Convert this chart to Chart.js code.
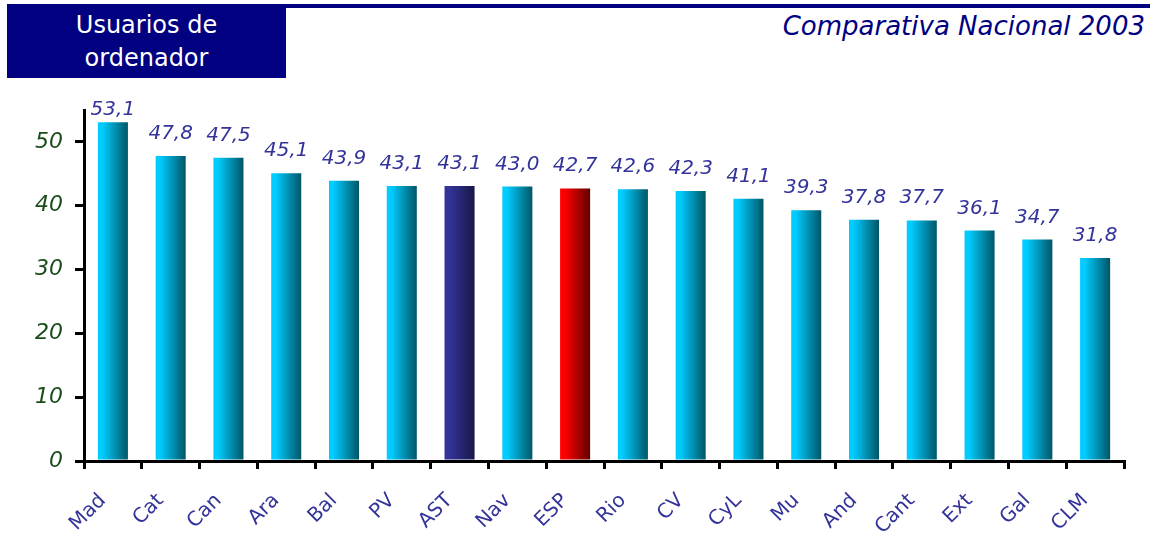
<!DOCTYPE html>
<html>
<head>
<meta charset="utf-8">
<script src="https://cdn.jsdelivr.net/npm/chart.js@4/dist/chart.umd.min.js"></script>
<style>
  body { margin: 0; background: #fff; width: 1155px; height: 537px; overflow: hidden; position: relative; font-family: "DejaVu Sans", sans-serif; }
  #box { position: absolute; left: 7px; top: 4px; width: 279px; height: 74px; background: #000080; color: #fff; font-size: 24px; line-height: 33px; text-align: center; padding-top: 5px; box-sizing: border-box; }
  #topline { position: absolute; left: 286px; top: 4px; width: 864px; height: 4px; background: #000080; }
  #title { position: absolute; right: 10px; top: 11px; color: #000080; font-style: italic; font-size: 26px; }
  canvas { position: absolute; left: 0; top: 0; }
</style>
</head>
<body>
<div id="box">Usuarios de<br>ordenador</div>
<div id="topline"></div>
<div id="title">Comparativa Nacional 2003</div>
<canvas id="usersChart" width="1155" height="537"></canvas>
<script>
const regions = ['Mad', 'Cat', 'Can', 'Ara', 'Bal', 'PV', 'AST', 'Nav', 'ESP', 'Rio', 'CV', 'CyL', 'Mu', 'And', 'Cant', 'Ext', 'Gal', 'CLM'];
const users = [53.1, 47.8, 47.5, 45.1, 43.9, 43.1, 43.1, 43.0, 42.7, 42.6, 42.3, 41.1, 39.3, 37.8, 37.7, 36.1, 34.7, 31.8];
const yTicks = [0, 10, 20, 30, 40, 50];

const barPct = 0.52;

// horizontal gradient per bar, light on the left, dark on the right
function barColor(ctx) {
    const chart = ctx.chart;
    const xs = chart.scales.x;
    const name = regions[ctx.dataIndex];
    let light = '#00ccff', dark = '#005566';
    if (name === 'AST') { light = '#333399'; dark = '#181848'; }
    if (name === 'ESP') { light = '#ff0000'; dark = '#600000'; }
    if (!xs || !chart.chartArea) return light;
    const cx = xs.getPixelForValue(ctx.dataIndex);
    const w = chart.chartArea.width / regions.length * barPct;
    const g = chart.ctx.createLinearGradient(cx - w / 2, 0, cx + w / 2, 0);
    g.addColorStop(0, light);
    g.addColorStop(0.15, light);
    g.addColorStop(1, dark);
    return g;
}

const valueLabels = {
    id: 'valueLabels',
    afterDatasetsDraw(chart) {
        const c = chart.ctx;
        const meta = chart.getDatasetMeta(0);
        c.save();
        c.font = 'italic 20px "DejaVu Sans"';
        c.fillStyle = '#333399';
        c.textAlign = 'center';
        c.textBaseline = 'alphabetic';
        meta.data.forEach((bar, i) => {
            // the tallest label is pushed down so it stays on the page
            const y = Math.max(bar.y - 17, 115);
            c.fillText(users[i].toFixed(1).replace('.', ','), bar.x, y);
        });
        c.restore();
    }
};

new Chart(document.getElementById('usersChart'), {
    type: 'bar',
    data: {
        labels: regions,
        datasets: [{
            data: users,
            backgroundColor: barColor,
            borderWidth: 0,
            barPercentage: barPct,
            categoryPercentage: 1
        }]
    },
    options: {
        responsive: false,
        animation: false,
        layout: { padding: { top: 110, right: 31, left: 0, bottom: 0 } },
        plugins: { legend: { display: false }, tooltip: { enabled: false } },
        scales: {
            y: {
                min: 0,
                max: 55,
                afterFit: s => { s.width = 84; },
                afterBuildTicks: s => { s.ticks = yTicks.map(v => ({ value: v })); },
                border: { color: '#000', width: 3 },
                grid: { drawOnChartArea: false, tickLength: 9, lineWidth: 3, color: '#000' },
                ticks: { color: '#1b4d1b', font: { family: 'DejaVu Sans', size: 22, style: 'italic' }, padding: 12 }
            },
            x: {
                afterFit: s => { s.height = 76; },
                border: { color: '#000', width: 3 },
                grid: { drawOnChartArea: false, tickLength: 8, lineWidth: 3, color: '#000', offset: true },
                ticks: { color: '#333399', font: { family: 'DejaVu Sans', size: 20 }, maxRotation: 45, minRotation: 45, padding: 20, labelOffset: -10 }
            }
        }
    },
    plugins: [valueLabels]
});
</script>
</body>
</html>
